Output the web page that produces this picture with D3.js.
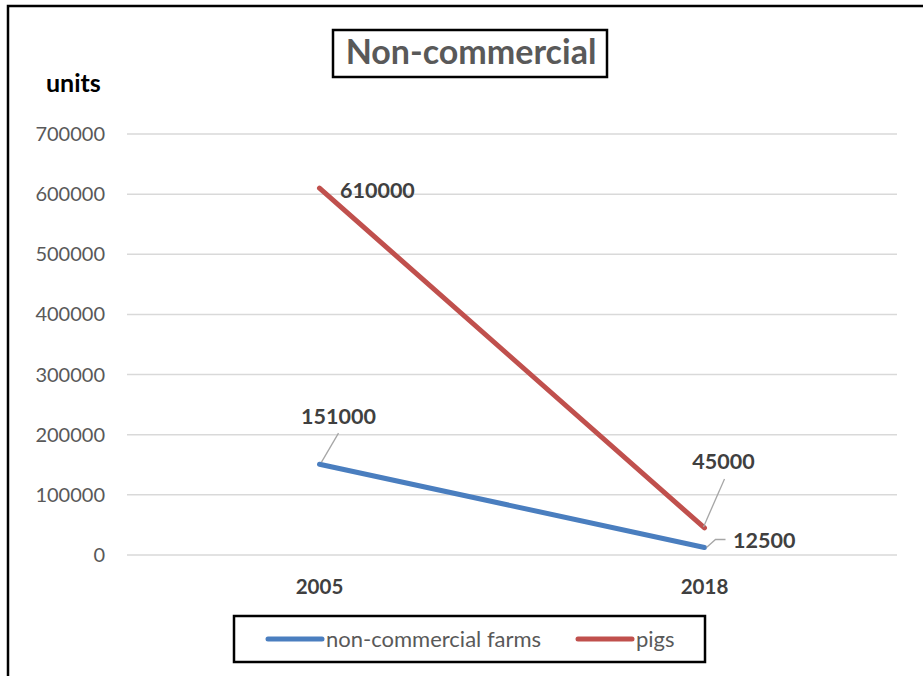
<!DOCTYPE html>
<html>
<head>
<meta charset="utf-8">
<script src="https://cdn.jsdelivr.net/npm/d3@7"></script>
<style>
  body { margin: 0; background: #fff; }
  text { font-family: Lato, "Open Sans", sans-serif; }
</style>
</head>
<body>
<svg id="chart" width="923" height="676"></svg>
<script>
// chart data
var categories = ["2005", "2018"];
var farms = [151000, 12500];
var pigs = [610000, 45000];
var yTicks = [0, 100000, 200000, 300000, 400000, 500000, 600000, 700000];
var seriesNames = ["non-commercial farms", "pigs"];

var svg = d3.select("#chart");

//------------------------------------------------------------------------------
// frame + scales
//------------------------------------------------------------------------------
svg.append("rect")
    .attr("x", 8).attr("y", 6)
    .attr("width", 940).attr("height", 700)
    .attr("fill", "none")
    .attr("stroke", "#000")
    .attr("stroke-width", 2.5);

var x = d3.scaleBand().domain(categories).range([127, 897]);
var y = d3.scaleLinear().domain([0, 700000]).range([555, 134]);

var colors = ["#4a7ebf", "#c0504d"];

// gridlines
svg.append("g").selectAll("line")
    .data(yTicks)
    .enter().append("line")
    .attr("x1", 127).attr("x2", 897)
    .attr("y1", function(d) { return y(d); })
    .attr("y2", function(d) { return y(d); })
    .attr("stroke", "#d9d9d9")
    .attr("stroke-width", 1.5);

// y tick labels
svg.append("g").selectAll("text")
    .data(yTicks)
    .enter().append("text")
    .attr("x", 105)
    .attr("y", function(d) { return y(d); })
    .attr("dy", "0.35em")
    .attr("text-anchor", "end")
    .attr("fill", "#595959")
    .attr("font-size", 20)
    .text(function(d) { return d; });

// category labels
svg.append("g").selectAll("text")
    .data(categories)
    .enter().append("text")
    .attr("x", function(d) { return x(d) + x.bandwidth() / 2; })
    .attr("y", 594)
    .attr("text-anchor", "middle")
    .attr("fill", "#404040")
    .attr("font-size", 20.5)
    .attr("font-weight", "bold")
    .text(function(d) { return d; });

//------------------------------------------------------------------------------
// lines
//------------------------------------------------------------------------------
function px(i) { return x(categories[i]) + x.bandwidth() / 2; }

var line = d3.line()
    .x(function(d, i) { return px(i); })
    .y(function(d) { return y(d); });

[farms, pigs].forEach(function(s, k) {
    svg.append("path")
        .datum(s)
        .attr("d", line)
        .attr("fill", "none")
        .attr("stroke", colors[k])
        .attr("stroke-width", 5)
        .attr("stroke-linecap", "round");
});

//------------------------------------------------------------------------------
// data labels (with leader lines where Excel moved them)
//------------------------------------------------------------------------------
var labels = [
    { v: pigs[0], i: 0, dx: 20.5, dy: 2, anchor: "start" },
    { v: farms[0], i: 0, dx: 19, dy: -48, anchor: "middle", lead: [[2, -2], [19, -31]] },
    { v: pigs[1], i: 1, dx: 19, dy: -66, anchor: "middle", lead: [[-1, -1], [20, -49]] },
    { v: farms[1], i: 1, dx: 28.5, dy: -7.5, anchor: "start", lead: [[2, 0], [11, -8], [21, -8]] }
];

labels.forEach(function(l) {
    var cx = px(l.i), cy = y(l.v);
    if (l.lead) {
        svg.append("path")
            .attr("d", d3.line()(l.lead.map(function(p) { return [cx + p[0], cy + p[1]]; })))
            .attr("fill", "none")
            .attr("stroke", "#a6a6a6")
            .attr("stroke-width", 1.3);
    }
    svg.append("text")
        .attr("x", cx + l.dx)
        .attr("y", cy + l.dy)
        .attr("dy", "0.35em")
        .attr("text-anchor", l.anchor)
        .attr("fill", "#404040")
        .attr("font-size", 21.5)
        .attr("font-weight", "bold")
        .text(l.v);
});

//------------------------------------------------------------------------------
// title, axis unit, legend
//------------------------------------------------------------------------------
svg.append("rect")
    .attr("x", 333).attr("y", 30)
    .attr("width", 274).attr("height", 47)
    .attr("fill", "#fff")
    .attr("stroke", "#000")
    .attr("stroke-width", 2.5);

svg.append("text")
    .attr("x", 471).attr("y", 52)
    .attr("dy", "0.35em")
    .attr("text-anchor", "middle")
    .attr("fill", "#595959")
    .attr("font-size", 34)
    .attr("font-weight", "bold")
    .text("Non-commercial");

svg.append("text")
    .attr("x", 46).attr("y", 83)
    .attr("dy", "0.35em")
    .attr("fill", "#000")
    .attr("font-size", 25)
    .attr("font-weight", "bold")
    .text("units");

svg.append("rect")
    .attr("x", 234).attr("y", 616)
    .attr("width", 471).attr("height", 46)
    .attr("fill", "#fff")
    .attr("stroke", "#000")
    .attr("stroke-width", 2.5);

var legendX = [268, 578];
var legend = svg.append("g").selectAll("g")
    .data(seriesNames)
    .enter().append("g")
    .attr("transform", function(d, i) { return "translate(" + legendX[i] + ",639)"; });

legend.append("line")
    .attr("x1", 0).attr("x2", 54)
    .attr("stroke", function(d, i) { return colors[i]; })
    .attr("stroke-width", 5)
    .attr("stroke-linecap", "round");

legend.append("text")
    .attr("x", 58)
    .attr("dy", "0.35em")
    .attr("fill", "#595959")
    .attr("font-size", 22)
    .text(function(d) { return d; });
</script>
</body>
</html>
